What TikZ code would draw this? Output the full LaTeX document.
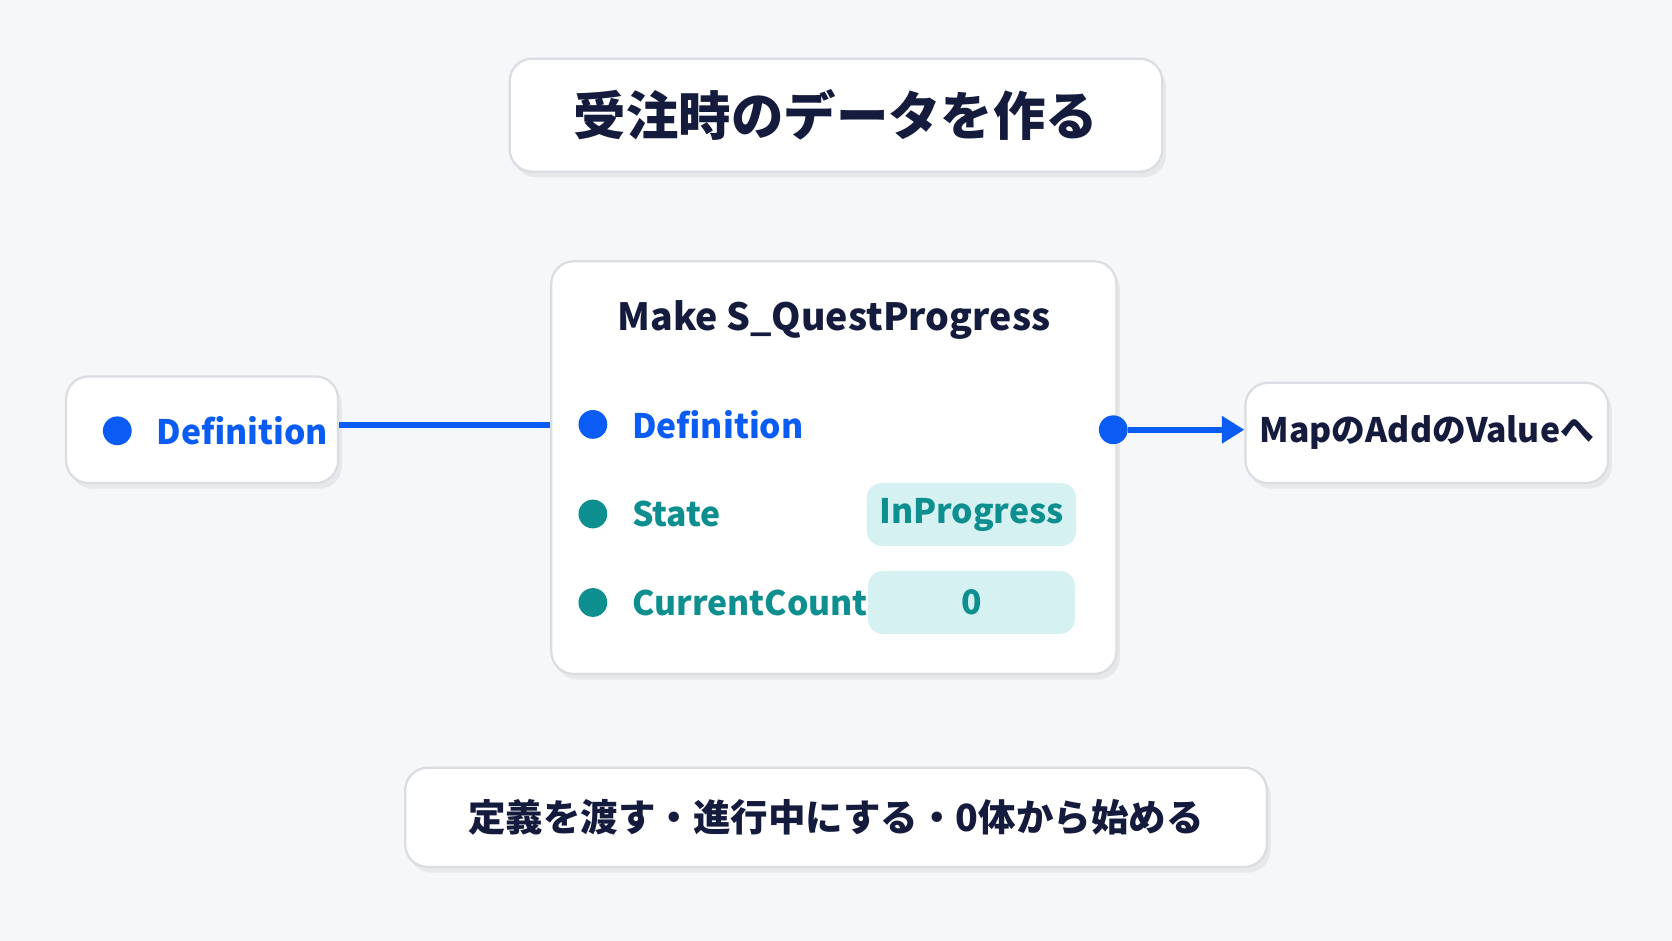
\documentclass[tikz,border=0pt]{standalone}
\usepackage{fontspec}
\setmainfont{Noto Sans CJK JP}
\usetikzlibrary{positioning, shadows, arrows.meta}

\definecolor{bg}{HTML}{F6F7F8}
\definecolor{ink}{HTML}{141B3D}
\definecolor{pinblue}{HTML}{0A5CF5}
\definecolor{pinteal}{HTML}{0E8F8F}
\definecolor{valfill}{HTML}{D5F1F2}
\definecolor{edge}{HTML}{DADDE2}

\tikzset{
    card/.style={draw=edge, line width=0.6pt, fill=white, rounded corners=6pt,
        drop shadow={shadow xshift=1pt, shadow yshift=-1.5pt, opacity=0.12}},
    pin/.style={circle, inner sep=0pt, minimum size=0.27cm},
    lbl/.style={font=\fontsize{9}{10}\selectfont\bfseries, anchor=west, inner sep=0pt},
    valbox/.style={fill=valfill, rounded corners=4pt, minimum width=1.94cm,
        minimum height=0.59cm, text=pinteal, font=\fontsize{9}{10}\selectfont\bfseries}
}

\begin{document}
\begin{tikzpicture}[x=1cm, y=1cm]
    \fill[bg] (0,0) rectangle (15.68,8.82);
    \useasboundingbox (0,0) rectangle (15.68,8.82);

    % title
    \node[card, minimum width=6.12cm, minimum height=1.06cm] (title) at (7.84,7.74)
        {\fontsize{14}{16}\selectfont\bfseries\color{ink}受注時のデータを作る};

    % input
    \node[card, minimum width=2.55cm, minimum height=1.0cm] (inbox) at (1.895,4.79) {};
    \node[pin, fill=pinblue] (indot) at (1.10,4.78) {};
    \node[lbl, text=pinblue, right=0.22cm of indot] (intxt) {Definition};

    % make node
    \node[card, minimum width=5.30cm, minimum height=3.87cm] (make) at (7.82,4.435) {};
    \node[font=\fontsize{10}{12}\selectfont\bfseries, text=ink] (maketitle) at (7.82,5.82) {Make S\_QuestProgress};
    \node[pin, fill=pinblue] (pdef) at (5.56,4.84) {};
    \node[lbl, text=pinblue, right=0.22cm of pdef] (tdef) {Definition};
    \node[pin, fill=pinteal] (pstate) at (5.56,4.00) {};
    \node[lbl, text=pinteal, right=0.22cm of pstate] (tstate) {State};
    \node[pin, fill=pinteal] (pcount) at (5.56,3.17) {};
    \node[lbl, text=pinteal, right=0.22cm of pcount] (tcount) {CurrentCount};
    \node[valbox] (vstate) at (9.11,3.995) {InProgress};
    \node[valbox] (vcount) at (9.11,3.17) {0};
    \node[pin, fill=pinblue] (pout) at (10.44,4.79) {};

    % output
    \node[card, minimum width=3.40cm, minimum height=0.94cm] (outbox) at (13.38,4.76)
        {\fontsize{9}{10}\selectfont\bfseries\color{ink}MapのAddのValueへ};

    % note
    \node[card, minimum width=8.08cm, minimum height=0.93cm] (note) at (7.84,1.155)
        {\fontsize{10}{12}\selectfont\bfseries\color{ink}定義を渡す・進行中にする・0体から始める};

    \draw[pinblue, line width=1.6pt] (inbox.east |- make.west |- 0,4.83) -- (make.west |- 0,4.83);
    \draw[pinblue, line width=1.6pt, -{Triangle[length=6pt, width=7pt]}] (pout) -- (outbox.west |- pout);
\end{tikzpicture}
\end{document}
